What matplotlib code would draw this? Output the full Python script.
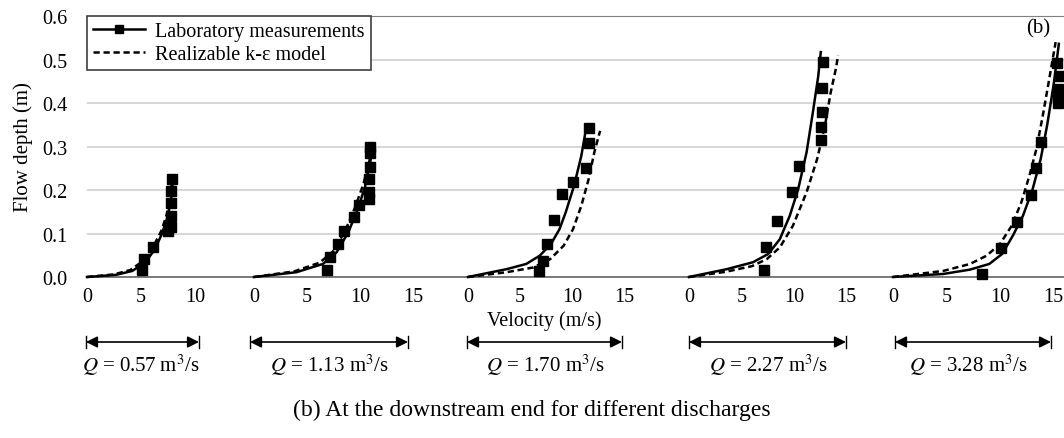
import matplotlib
matplotlib.use("Agg")
import matplotlib.pyplot as plt
from matplotlib.lines import Line2D
from matplotlib.patches import FancyArrowPatch

plt.rcParams['font.family'] = ['Liberation Serif', 'DejaVu Serif']
plt.rcParams['mathtext.fontset'] = 'stix'

# discharges for each profile
discharges = ['0.57', '1.13', '1.70', '2.27', '3.28']
panel_ticks = [[0, 5, 10], [0, 5, 10, 15], [0, 5, 10, 15], [0, 5, 10, 15], [0, 5, 10, 15]]

# laboratory measurements (velocity m/s, depth m)
lab_v = [
    [5.1, 5.3, 6.1, 7.5, 7.8, 7.8, 7.75, 7.75, 7.85],
    [6.85, 7.2, 7.9, 8.5, 9.4, 9.9, 10.85, 10.85, 10.85, 10.9, 10.9, 10.95],
    [6.85, 7.2, 7.6, 8.3, 9.0, 10.1, 11.3, 11.6, 11.6],
    [7.17, 7.33, 8.4, 9.8, 10.5, 12.57, 12.6, 12.67, 12.7, 12.8],
    [8.3, 10.1, 11.6, 12.9, 13.4, 13.8, 15.4, 15.45, 15.45, 15.6, 15.35],
]
lab_y = [
    [0.017, 0.042, 0.070, 0.105, 0.115, 0.140, 0.170, 0.198, 0.226],
    [0.017, 0.045, 0.076, 0.106, 0.137, 0.165, 0.179, 0.196, 0.225, 0.254, 0.285, 0.300],
    [0.013, 0.037, 0.075, 0.131, 0.190, 0.218, 0.250, 0.308, 0.342],
    [0.016, 0.068, 0.129, 0.195, 0.256, 0.315, 0.344, 0.379, 0.434, 0.495],
    [0.007, 0.066, 0.126, 0.189, 0.250, 0.310, 0.400, 0.413, 0.432, 0.463, 0.491],
]

# fitted profile through measurements (solid)
fit_v = [
    [0, 2.7, 4.2, 5.4, 6.3, 7.0, 7.5, 7.8, 8.0],
    [0, 4.0, 6.5, 7.8, 8.9, 9.8, 10.5, 10.9, 11.25],
    [0, 3.7, 5.6, 6.9, 7.98, 8.8, 9.4, 10.2, 10.9, 11.4],
    [0, 3.6, 6.1, 7.55, 8.65, 9.6, 10.4, 11.2, 11.8, 12.3, 12.55],
    [0, 4.7, 7.2, 9.0, 10.2, 11.2, 12.15, 13.05, 13.8, 14.4, 15.0, 15.5],
]
fit_y = [
    [0, 0.005, 0.014, 0.034, 0.064, 0.103, 0.141, 0.182, 0.232],
    [0, 0.011, 0.030, 0.057, 0.103, 0.156, 0.210, 0.256, 0.303],
    [0, 0.018, 0.030, 0.049, 0.076, 0.110, 0.149, 0.210, 0.279, 0.348],
    [0, 0.018, 0.034, 0.053, 0.087, 0.141, 0.202, 0.287, 0.379, 0.460, 0.517],
    [0, 0.007, 0.017, 0.030, 0.053, 0.095, 0.141, 0.202, 0.271, 0.348, 0.440, 0.536],
]

# realizable k-epsilon model (dashed)
rke_v = [
    [0, 2.5, 4.0, 5.2, 6.1, 6.9, 7.4, 7.7, 7.95],
    [0, 3.8, 6.2, 7.5, 8.6, 9.5, 10.3, 10.8, 11.2],
    [0, 3.7, 6.3, 7.9, 9.2, 10.1, 10.9, 11.6, 12.15, 12.7],
    [0, 3.5, 6.0, 7.4, 8.65, 9.9, 11.2, 12.2, 12.95, 13.5, 14.0, 14.2],
    [0, 4.7, 7.2, 8.75, 10.0, 11.1, 12.0, 12.75, 13.4, 14.0, 14.6, 15.2],
]
rke_y = [
    [0, 0.006, 0.016, 0.037, 0.068, 0.107, 0.145, 0.185, 0.232],
    [0, 0.013, 0.033, 0.060, 0.106, 0.158, 0.212, 0.258, 0.300],
    [0, 0.011, 0.022, 0.041, 0.072, 0.110, 0.164, 0.225, 0.287, 0.336],
    [0, 0.012, 0.025, 0.041, 0.068, 0.118, 0.195, 0.271, 0.348, 0.425, 0.480, 0.510],
    [0, 0.014, 0.030, 0.049, 0.076, 0.118, 0.172, 0.233, 0.294, 0.371, 0.455, 0.540],
]

# layout in pixels
W, H = 1064, 439
ax_top, ax_bot = 17, 278
panel_x0 = [87, 254, 468, 689, 893]
panel_scale = [10.8, 10.6, 10.4, 10.5, 10.7]
arrow_span = [(86, 199), (250, 408), (467, 622), (689, 846), (895, 1051)]
q_x = [141, 329, 545, 768, 968]

fig = plt.figure(figsize=(W / 100, H / 100), dpi=100)
bottom = 1 - ax_bot / H
height = (ax_bot - ax_top) / H

# background axes: grid, y axis, frame
bg = fig.add_axes([panel_x0[0] / W, bottom, (W - panel_x0[0]) / W + 0.01, height])
bg.set_ylim(0, 0.6)
bg.set_xlim(0, 1)
bg.set_yticks([0, 0.1, 0.2, 0.3, 0.4, 0.5, 0.6])
bg.set_yticklabels(['0.0', '0.1', '0.2', '0.3', '0.4', '0.5', '0.6'], fontsize=14.5)
bg.tick_params(axis='y', length=0, pad=14)
bg.set_xticks([])
bg.grid(axis='y', color='#d0d0d0', lw=1.2)
bg.set_axisbelow(True)
for s in ['left', 'right']:
    bg.spines[s].set_visible(False)
bg.spines['top'].set_color('#808080')
bg.spines['bottom'].set_color('#707070')
bg.spines['bottom'].set_linewidth(1.3)
bg.set_ylabel('Flow depth (m)', fontsize=15, labelpad=7)

for i in range(5):
    ax = fig.add_axes([panel_x0[i] / W, bottom, 16 * panel_scale[i] / W, height])
    ax.patch.set_visible(False)
    for s in ax.spines.values():
        s.set_visible(False)
    ax.set_xlim(0, 16)
    ax.set_ylim(0, 0.6)
    ax.set_yticks([])
    ax.set_xticks(panel_ticks[i])
    ax.tick_params(axis='x', length=0, pad=7, labelsize=14.5)
    ax.plot(fit_v[i], fit_y[i], color='black', lw=1.8, clip_on=False)
    ax.plot(rke_v[i], rke_y[i], color='black', lw=1.8, ls=(0, (2.5, 1.5)), clip_on=False)
    ax.plot(lab_v[i], lab_y[i], 's', color='black', ms=6.5, ls='none', clip_on=False)

    # discharge arrow and label
    xa, xb = arrow_span[i]
    ya = 1 - 343 / H
    fig.add_artist(FancyArrowPatch((xa / W, ya), (xb / W, ya), transform=fig.transFigure,
                                   arrowstyle='<|-|>', mutation_scale=17, lw=1.2, color='black',
                                   shrinkA=0, shrinkB=0))
    for xe in (xa, xb):
        fig.add_artist(Line2D([xe / W, xe / W], [ya - 6 / H, ya + 6 / H],
                              transform=fig.transFigure, color='black', lw=1))
    fig.text(q_x[i] / W, 1 - 365 / H, r'$Q$ = ' + discharges[i] + r' m$^3$/s',
             ha='center', va='center', fontsize=15)

fig.text(544 / W, 1 - 321 / H, 'Velocity (m/s)', ha='center', va='center', fontsize=14.5)
fig.text(1038 / W, 1 - 29 / H, '(b)', ha='center', va='center', fontsize=15)
fig.text(532 / W, 1 - 410 / H, '(b) At the downstream end for different discharges',
         ha='center', va='center', fontsize=17)

handles = [Line2D([], [], color='black', lw=1.8, marker='s', ms=6),
           Line2D([], [], color='black', lw=1.8, ls=(0, (2.5, 1.5)))]
leg = bg.legend(handles, ['Laboratory measurements', 'Realizable k-\u03b5 model'],
                loc='upper left', bbox_to_anchor=(0, 1), borderaxespad=0, fontsize=14.5,
                fancybox=False, framealpha=1, edgecolor='#404040', handlelength=2.6,
                borderpad=0.3, labelspacing=0.2, handletextpad=0.5)
leg.get_frame().set_linewidth(1.2)

fig.savefig('out.png', dpi=100)
